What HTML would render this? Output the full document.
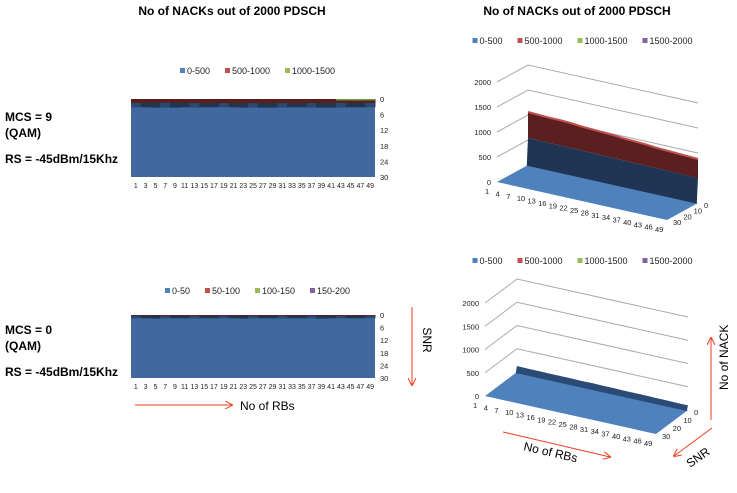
<!DOCTYPE html>
<html><head><meta charset="utf-8"><style>
body{margin:0;background:#fff;width:737px;height:488px;overflow:hidden;font-family:"Liberation Sans",sans-serif}
svg text{font-family:"Liberation Sans",sans-serif}
</style></head><body>
<svg id="s" width="737" height="488" xmlns="http://www.w3.org/2000/svg">
<defs><marker id="ah" markerWidth="8" markerHeight="8" refX="7" refY="4" orient="auto"><path d="M0,0 L8,4 L0,8" fill="none" stroke="#f03c1e" stroke-width="1"/></marker></defs>
<text x="232" y="15" font-size="12" font-weight="bold" text-anchor="middle">No of NACKs out of 2000 PDSCH</text>
<text x="577" y="15" font-size="12" font-weight="bold" text-anchor="middle">No of NACKs out of 2000 PDSCH</text>
<g font-size="12" font-weight="bold">
<text x="5" y="121">MCS = 9</text><text x="5" y="137">(QAM)</text><text x="5" y="163">RS = -45dBm/15Khz</text></g>
<g font-size="12" font-weight="bold">
<text x="5" y="334">MCS = 0</text><text x="5" y="350">(QAM)</text><text x="5" y="376">RS = -45dBm/15Khz</text></g>
<g id="g2d1"></g>
<g id="g2d2"></g>
<g id="g3d1"></g>
<g id="g3d2"></g>
<line x1="412" y1="307" x2="412" y2="385" stroke="#f03c1e" marker-end="url(#ah)"/>
<text transform="translate(423,340) rotate(90)" font-size="12" text-anchor="middle">SNR</text>
<line x1="135" y1="405" x2="232" y2="405" stroke="#f03c1e" marker-end="url(#ah)"/>
<text x="240" y="410" font-size="12">No of RBs</text>
<line x1="711" y1="420" x2="711" y2="338" stroke="#f03c1e" marker-end="url(#ah)"/>
<text transform="translate(728,390) rotate(-90)" font-size="12">No of NACK</text>
<line x1="712" y1="428" x2="674" y2="456" stroke="#f03c1e" marker-end="url(#ah)"/>
<text transform="translate(690,468) rotate(-35)" font-size="12">SNR</text>
<line x1="503" y1="432" x2="610" y2="457" stroke="#f03c1e" marker-end="url(#ah)"/>
<text transform="translate(523,450) rotate(13)" font-size="12">No of RBs</text>
</svg>
<script>
const NS="http://www.w3.org/2000/svg";
const rbCats2d=[1,3,5,7,9,11,13,15,17,19,21,23,25,27,29,31,33,35,37,39,41,43,45,47,49];
const snrTicks=[0,6,12,18,24,30];
const redDepth1=[1.5,1.5,1.5,1.5,1.5,1.5,1.6,1.7,1.6,1.6,1.7,1.7,1.6,1.7,1.6,1.6,1.7,1.7,1.6,1.6,1.6,1.5,1.5,1.5,1.5];
const darkDepth1=[3.2,3.2,3.3,3.3,3.3,3.2,3.3,3.2,3.2,3.2,3.2,3.3,3.3,3.3,3.3,3.3,3.2,3.2,3.3,3.3,3.3,3.3,3.2,3.2,3.2];
const redDepth2=[0.4,0.4,0.4,0.4,0.4,0.4,0.4,0.4,0.4,0.4,0.4,0.4,0.4,0.4,0.4,0.4,0.4,0.4,0.4,0.4,0.4,0.4,0.4,0.4,0.4];
const darkDepth2=[1.6,1.6,1.7,1.6,1.6,1.6,1.7,1.6,1.6,1.6,1.6,1.7,1.6,1.6,1.6,1.7,1.6,1.6,1.6,1.7,1.6,1.6,1.6,1.6,1.6];
const rbCats3d=[1,4,7,10,13,16,19,22,25,28,31,34,37,40,43,46,49];
const valTicks=[0,500,1000,1500,2000];
const ridge1=[1060,1050,1040,1040,1030,1010,1000,990,980,960,950,940,920,910,900,890,880];
const split1=[540,540,535,535,530,530,525,525,520,520,515,515,510,510,505,505,500];
const ridge2=[130,125,125,120,120,120,115,120,115,115,110,110,110,105,105,100,100];
const legend1=[["0-500","#4f81bd"],["500-1000","#c0504d"],["1000-1500","#9bbb59"]];
const legend2=[["0-50","#4f81bd"],["50-100","#c0504d"],["100-150","#9bbb59"],["150-200","#8064a2"]];
const legend3=[["0-500","#4f81bd"],["500-1000","#c0504d"],["1000-1500","#9bbb59"],["1500-2000","#8064a2"]];
function mk(p,t,a){const e=document.createElementNS(NS,t);for(const k in a)e.setAttribute(k,a[k]);p.appendChild(e);return e;}
function txt(p,x,y,s,sz,anc){const e=mk(p,"text",{x:x,y:y,"font-size":sz,"text-anchor":anc||"start",fill:"#222"});e.textContent=s;return e;}
function legend(p,items,cx,y){let w=0;items.forEach(i=>w+=i[0].length*5+20);let x=cx-w/2;
 items.forEach(i=>{const r=mk(p,"rect",{x:x,y:y-6,width:5,height:5,fill:i[1]});
 
 
 txt(p,x+7,y,i[0],9);x+=i[0].length*5+20;});}
function heat(g,top,bot,red,dark,legItems,legY){
 const L=131,R=375;const xs=i=>L+(R-L)*i/rbCats2d.length;const ys=v=>top+(bot-top)*v/30;
 legend(g,legItems,265,legY);
 const bg=mk(g,"rect",{x:L,y:top,width:R-L,height:bot-top,fill:"#4169a0"});
 
 
 rbCats2d.forEach((c,i)=>{
  const d=mk(g,"rect",{x:xs(i),y:top,width:xs(i+1)-xs(i)+0.5,height:ys(dark[i])-top,fill:i%3?"#1f3550":"#2a4a72"});
  
  
  const r=mk(g,"rect",{x:xs(i),y:top,width:xs(i+1)-xs(i)+0.5,height:ys(red[i])-top,fill:"#5a1e1e"});
  
  
  txt(g,xs(i)+(xs(1)-xs(0))/2,bot+11,String(c),7,"middle");});
 if(legItems===legend1){const gr=mk(g,"rect",{x:xs(21),y:top,width:R-xs(21),height:1.5,fill:"#6f9a3a"});}
 snrTicks.forEach(t=>txt(g,R+5,ys(t)+3,String(t),7.5));}
heat(document.getElementById("g2d1"),99,177,redDepth1,darkDepth1,legend1,74);
heat(document.getElementById("g2d2"),315,378,redDepth2,darkDepth2,legend2,294);
function surf(g,o,legY,ridge,split){
 const n=rbCats3d.length-1;
 const P=(i,s,v)=>[o.bx+o.dx*i/n+o.sx*s/30,o.by+o.dy*i/n+o.sy*s/30-v*o.k];
 legend(g,legend3,590,legY);
 valTicks.forEach(t=>{if(t===0)return;const a=P(0,30,t),b=P(0,0,t),c=P(n,0,t);
  const l=mk(g,"polyline",{points:a+" "+b+" "+c,fill:"none",stroke:"#aaa","stroke-width":1});
  
  });
 valTicks.forEach(t=>{const a=P(0,30,t);txt(g,a[0]-6,a[1]+3,String(t),7.5,"end");});
 const f=[P(0,30,0),P(0,0,0),P(n,0,0),P(n,30,0)];
 const fl=mk(g,"polygon",{points:f.join(" "),fill:"#4f81bd"});
 
 
 const top=ridge.map((v,i)=>P(i,0,v)),base=ridge.map((v,i)=>P(i,1.2,0));
 if(split){const mid=split.map((v,i)=>P(i,0,v));
  const r=mk(g,"polygon",{points:top.concat(mid.slice().reverse()).join(" "),fill:"#5c1f1f"});
  
  const rt=mk(g,"polyline",{points:top.join(" "),fill:"none",stroke:"#c0504d","stroke-width":2});
  
  const b=mk(g,"polygon",{points:mid.concat(base.slice().reverse()).join(" "),fill:"#1f3553"});
  }
 else{const b=mk(g,"polygon",{points:top.concat(base.slice().reverse()).join(" "),fill:"#2b4a75"});
  }
 rbCats3d.forEach((c,i)=>{const p=P(i,30,0);txt(g,p[0]-12,p[1]+12,String(c),7.5,"start");});
 [0,10,20,30].forEach(s=>{const p=P(n,s,0);txt(g,p[0]+6,p[1]+5,String(s),7.5);});}
surf(document.getElementById("g3d1"),{bx:528,by:165,dx:170,dy:38,sx:-31,sy:17,k:0.05},44,ridge1,split1);
surf(document.getElementById("g3d2"),{bx:517,by:372,dx:171,dy:38,sx:-32,sy:24,k:0.0465},264,ridge2,null);
</script>
</body></html>
